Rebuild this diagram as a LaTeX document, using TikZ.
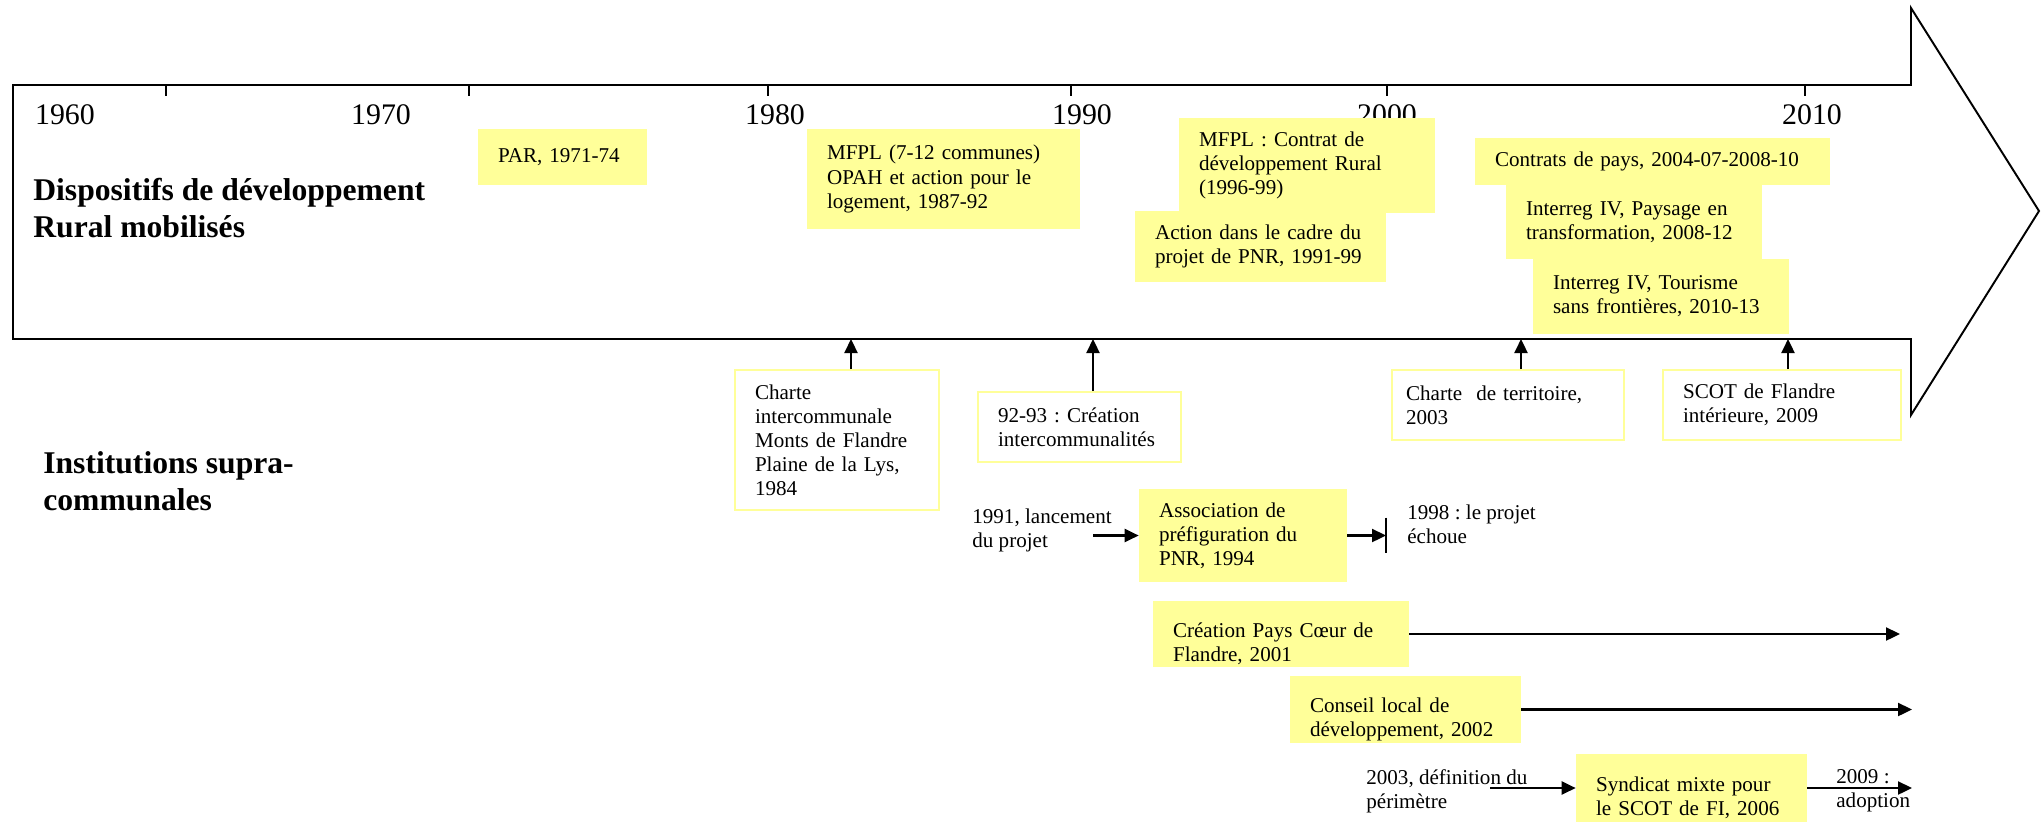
\documentclass[tikz,border=0pt]{standalone}
\usepackage{fontspec}
\setmainfont{Liberation Serif}
\usetikzlibrary{arrows.meta,positioning,calc}
\definecolor{boxyellow}{HTML}{FFFF99}
\frenchspacing
\tikzset{
 ybox/.style={fill=boxyellow,inner xsep=0.4cm,inner ysep=0pt,align=left,
             font=\fontsize{12}{13.7}\selectfont},
 wbox/.style={ybox,fill=white,draw=boxyellow,line width=1pt},
 note/.style={inner sep=0pt,align=left,anchor=west,font=\fontsize{12}{13.7}\selectfont},
 heading/.style={inner sep=0pt,align=left,anchor=west,font=\fontsize{18}{21}\selectfont\bfseries},
 yearlabel/.style={inner sep=0pt,anchor=base,font=\fontsize{17}{20}\selectfont},
 arrow/.style={-{Triangle[length=0.28cm,width=0.26cm]},line width=1.3pt},
 bigarrow/.style={line width=1.1pt,line join=miter}
}

\begin{document}
\begin{tikzpicture}[x=0.02cm,y=-0.02cm]
\useasboundingbox (0,0) rectangle (2042,822);
\draw[bigarrow] (13,85) -- (1911,85) -- (1911,8) -- (2039,211) -- (1911,415)
  -- (1911,339) -- (13,339) -- cycle;
\foreach \t in {166,469,768,1071,1387,1805}
  \draw[line width=0.6pt] (\t,85) -- (\t,96);
\foreach \yr/\xpos in {1960/65,1970/381,1980/775,1990/1082,2000/1387,2010/1812}
  \node[yearlabel] (y\yr) at (\xpos,124) {\yr};

\node[heading] (disp) at (33,208) {Dispositifs de développement\\Rural mobilisés};
\node[heading] (inst) at (43,481) {Institutions supra-\\communales};

\node[ybox,text width=2.58cm,minimum height=1.12cm] (par) at (562.5,157) {PAR, 1971-74};
\node[ybox,text width=4.66cm,minimum height=2cm] (mfpl) at (943.5,179)
  {MFPL (7-12 communes)\\OPAH et action pour le\\logement, 1987-92};
\node[ybox,text width=4.32cm,minimum height=1.9cm] (crural) at (1307,165.5)
  {MFPL : Contrat de\\développement Rural\\(1996-99)};
\node[ybox,text width=4.22cm,minimum height=1.42cm] (pnrproj) at (1260.5,246.5)
  {Action dans le cadre du\\projet de PNR, 1991-99};
\node[ybox,text width=6.3cm,minimum height=0.94cm] (cpays) at (1652.5,161.5)
  {Contrats de pays, 2004-07-2008-10};
\node[ybox,text width=4.32cm,minimum height=1.48cm] (paysage) at (1634,222)
  {Interreg IV, Paysage en\\transformation, 2008-12};
\node[ybox,text width=4.32cm,minimum height=1.5cm] (tourisme) at (1661,296.5)
  {Interreg IV, Tourisme\\sans frontières, 2010-13};

\node[wbox,text width=3.28cm,minimum height=2.8cm] (charte) at (837,440)
  {Charte\\intercommunale\\Monts de Flandre\\Plaine de la Lys,\\1984};
\node[wbox,text width=3.26cm,minimum height=1.4cm] (interco) at (1079.5,427)
  {92-93 : Création\\intercommunalités};
\node[wbox,text width=4.08cm,inner xsep=0.28cm,minimum height=1.4cm] (cterr) at (1508,405)
  {Charte~ de territoire,\\2003};
\node[wbox,text width=3.96cm,minimum height=1.4cm] (scot) at (1782,405)
  {SCOT de Flandre\\intérieure, 2009};

\node[ybox,text width=3.36cm,minimum height=1.86cm] (assoc) at (1243,535.5)
  {Association de\\préfiguration du\\PNR, 1994};
\node[ybox,text width=4.32cm,minimum height=1.32cm,text height=20pt] (pays) at (1281,634)
  {Création Pays Cœur de\\Flandre, 2001};
\node[ybox,text width=3.82cm,minimum height=1.34cm,text height=20pt] (cld) at (1405.5,709.5)
  {Conseil local de\\développement, 2002};
\node[ybox,text width=3.82cm,minimum height=1.36cm,text height=20pt] (smscot) at (1691.5,788)
  {Syndicat mixte pour\\le SCOT de FI, 2006};

\node[note] (lanc) at (972,530) {1991, lancement\\du projet};
\node[note] (echec) at (1407,524) {1998 : le projet\\échoue};
\node[note] (defin) at (1366,791) {2003, définition du\\périmètre};
\node[note] (adopt) at (1836,791) {2009 :\\adoption};

\coordinate (a84) at (851,339);
\coordinate (a92) at (1093,339);
\coordinate (a03) at (1521,339);
\coordinate (a09) at (1788,339);
\draw[arrow] (charte.north -| a84) -- (a84);
\draw[arrow] (interco.north -| a92) -- (a92);
\draw[arrow] (cterr.north -| a03) -- (a03);
\draw[arrow] (scot.north -| a09) -- (a09);

\coordinate (lanc-out) at (1093,535.5);
\coordinate (fail) at (1386,535.5);
\draw[arrow] (lanc-out) -- (lanc-out -| assoc.west);
\draw[arrow] (assoc.east) -- (fail);
\draw[line width=1pt] ($(fail)+(0,-18)$) -- ($(fail)+(0,17)$);

\coordinate (pays-end) at (1900,634);
\coordinate (cld-end) at (1912,709.5);
\coordinate (defin-out) at (1490,788);
\coordinate (adopt-end) at (1912,788);
\draw[arrow] (pays.east) -- (pays-end);
\draw[arrow] (cld.east) -- (cld-end);
\draw[arrow] (defin-out) -- (smscot.west);
\draw[arrow] (smscot.east) -- (adopt-end);
\end{tikzpicture}
\end{document}
